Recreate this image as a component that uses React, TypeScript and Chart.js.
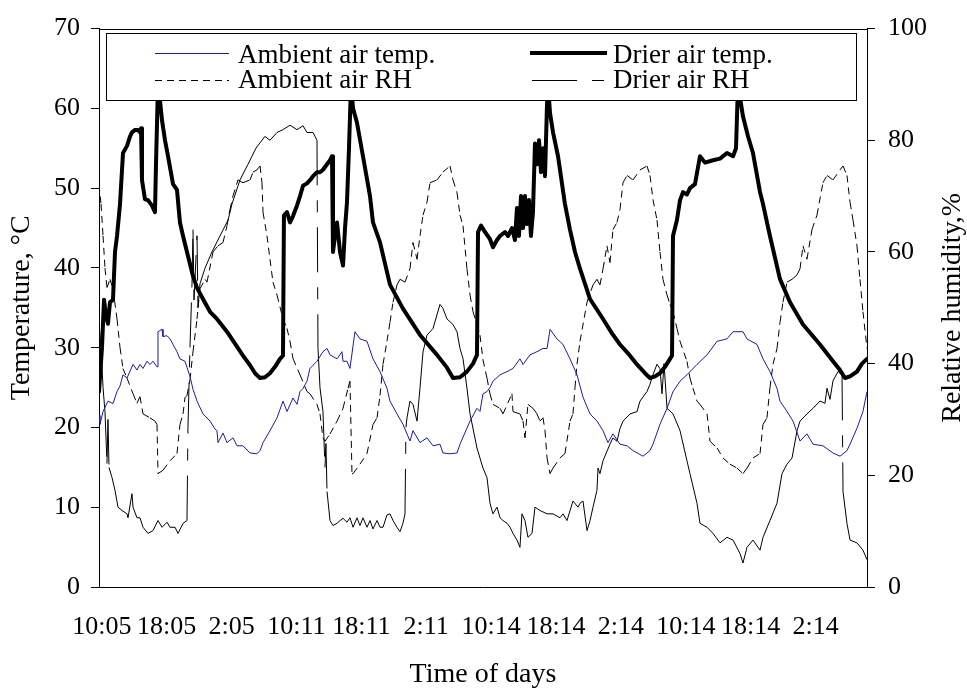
import React, { useEffect, useRef } from "react";
import { Chart, registerables } from "chart.js";

Chart.register(...registerables);

const FONT_FAMILY = '"Liberation Serif", "Times New Roman", serif';

// x axis: hours from start of record
const xTickHours = [0.35, 8.38, 16.41, 24.44, 32.47, 40.5, 48.53, 56.56, 64.59, 72.62, 80.65, 88.68];
const xTickLabels = ["10:05", "18:05", "2:05", "10:11", "18:11", "2:11", "10:14", "18:14", "2:14", "10:14", "18:14", "2:14"];

const leftTitle = "Temperature, °C";
const rightTitle = "Relative humidity,%";
const bottomTitle = "Time of days";

// Drier air temperature (°C)
const driTempH = [0, 0.12, 0.37, 0.62, 0.87, 1.11, 1.36, 1.73, 1.98, 2.23, 2.6, 2.97, 3.47, 3.84, 4.08, 4.46, 4.83, 5.07, 5.2, 5.32, 5.69, 6.06, 6.56, 6.93, 7.05, 7.3, 7.55, 7.8, 8.17, 8.54, 9.16, 9.65, 10.02, 10.4, 10.89, 11.63, 12.13, 12.87, 13.74, 14.6, 15.84, 16.83, 17.82, 18.69, 19.31, 19.93, 20.54, 21.16, 21.78, 22.4, 22.77, 22.89, 23.27, 23.64, 24.01, 24.5, 24.88, 25.25, 25.74, 26.11, 26.49, 26.98, 27.35, 27.72, 28.22, 28.59, 28.84, 28.96, 29.21, 29.46, 29.83, 30.2, 30.45, 30.69, 30.94, 31.19, 31.44, 31.93, 32.67, 33.54, 33.91, 34.78, 36.01, 37.62, 39.73, 41.83, 43.07, 43.81, 44.68, 45.54, 46.29, 46.78, 46.91, 47.28, 47.77, 48.39, 48.76, 49.26, 49.63, 50.25, 50.62, 51.11, 51.48, 51.73, 51.98, 52.23, 52.48, 52.72, 52.97, 53.22, 53.46, 53.71, 53.96, 54.21, 54.46, 54.7, 54.95, 55.2, 55.45, 55.57, 55.82, 56.19, 56.81, 57.67, 58.29, 58.91, 59.53, 60.77, 62.38, 63.49, 64.48, 65.72, 66.58, 67.57, 68.19, 68.81, 69.43, 70.05, 70.67, 70.92, 71.04, 71.53, 71.91, 72.28, 72.77, 73.14, 73.76, 74.38, 75.0, 75.99, 76.86, 77.72, 78.47, 78.84, 79.08, 79.7, 80.32, 80.94, 81.81, 82.18, 83.04, 84.28, 85.52, 87.13, 89.23, 90.84, 91.71, 92.33, 92.95, 93.81, 94.43, 95.05];
const driTempV = [24.5, 24.5, 30, 36, 34, 33, 35.7, 36, 42, 44, 48, 54.4, 55.3, 56.5, 57, 57.3, 57.3, 57, 57.5, 51, 48.6, 48.5, 47.8, 47, 52.8, 63, 61, 58.5, 56, 54, 50.5, 49.8, 45.7, 44, 42, 39, 37.5, 36.1, 34.5, 33.6, 32, 30.5, 29, 27.8, 26.8, 26.2, 26.3, 26.8, 27.6, 28.6, 29, 46.6, 47, 45.7, 46.5, 47.8, 49, 50.3, 50.6, 51, 51.5, 52, 52, 52.3, 53, 53.5, 54, 42, 44, 45.7, 42, 40.3, 45, 48.2, 55, 63, 60, 58.2, 54, 49, 45.7, 43.2, 37.9, 34.9, 31.6, 29.1, 27.5, 26.2, 26.3, 27, 28, 29.1, 44.5, 45.3, 44.5, 43.6, 42.6, 43.5, 44, 44.5, 44, 45, 43.5, 47.5, 44, 49, 45, 49, 45.5, 48.5, 44, 47, 55.6, 53, 56, 52, 55, 51.5, 60.6, 63, 59.4, 57, 54, 48, 44.8, 42, 39.9, 36.1, 33.6, 31.8, 30.4, 29, 27.9, 26.8, 26.2, 26.4, 26.8, 27.6, 28.6, 29, 44, 46, 48.5, 49.5, 49.2, 50, 50.5, 54, 53.2, 53.5, 53.7, 54.4, 54, 55, 63, 59, 56.5, 54.4, 49.5, 48, 44, 38.6, 35.7, 32.9, 30.4, 28.3, 27.2, 26.2, 26.4, 27, 28, 28.6];

// Ambient air temperature (°C)
const ambTempH = [0, 0.12, 0.5, 1.11, 1.73, 2.23, 2.6, 2.97, 3.47, 4.21, 4.7, 5.07, 5.45, 5.94, 6.31, 6.68, 7.18, 7.3, 7.8, 7.92, 8.42, 8.79, 9.16, 9.65, 10.02, 10.64, 11.26, 11.63, 12.13, 12.87, 13.74, 14.36, 14.6, 14.73, 15.35, 15.84, 16.58, 17.08, 17.82, 18.69, 19.55, 19.93, 20.3, 21.16, 22.03, 22.77, 23.27, 24.01, 24.5, 24.88, 25.25, 25.74, 26.11, 26.98, 27.72, 28.22, 28.59, 29.46, 30.07, 30.2, 30.69, 31.06, 31.68, 32.3, 33.17, 33.91, 34.78, 35.64, 36.01, 36.88, 37.62, 38.49, 38.86, 39.73, 40.59, 41.34, 42.2, 42.57, 43.44, 44.31, 44.68, 45.92, 46.78, 47.15, 47.52, 48.02, 48.39, 48.76, 49.63, 50.5, 51.24, 52.1, 52.48, 53.34, 54.21, 54.95, 55.45, 55.82, 56.68, 57.43, 58.29, 59.16, 59.9, 60.77, 61.63, 62.38, 62.99, 63.61, 64.48, 65.35, 66.09, 67.33, 68.19, 68.56, 69.43, 70.3, 71.04, 71.91, 72.77, 74.01, 75.25, 76.49, 77.72, 78.47, 79.7, 80.2, 81.44, 82.18, 83.04, 83.91, 84.28, 85.15, 85.89, 86.76, 87.62, 88.37, 89.6, 90.84, 91.71, 92.57, 92.95, 93.81, 94.55, 95.05];
const ambTempV = [21.5, 20.4, 22, 23.3, 23, 24.5, 25.2, 26.6, 26.2, 27.9, 27.2, 27.9, 27.4, 28.3, 27.9, 28.3, 27.6, 32, 32.3, 31.4, 31.5, 31.1, 30.4, 29.5, 28.6, 28.3, 26.4, 24.8, 23.3, 21.7, 20.8, 19.8, 19.6, 18.1, 19.3, 18.1, 18.7, 17.7, 17.7, 16.8, 16.7, 17.1, 18.1, 19.6, 21.2, 23.3, 22, 23.7, 22.9, 24.5, 24.9, 25.8, 27.4, 28.3, 29.5, 29.9, 29.1, 28.6, 29.5, 28.3, 28.3, 27.4, 32, 31.1, 30.8, 28.6, 27, 24.9, 23.3, 21.7, 20.4, 18.3, 19.6, 18.1, 18.7, 17.7, 17.9, 16.8, 16.7, 16.8, 17.9, 20.8, 22.4, 22, 24.2, 24.5, 25, 25.8, 26.6, 27, 27.4, 28.6, 27.9, 29.1, 29.5, 29.9, 29.9, 32.3, 31.1, 30.4, 28.6, 26.6, 23.8, 21.7, 20.8, 19.6, 18.1, 19.2, 17.9, 17.7, 17.1, 16.4, 17.1, 17.9, 20.4, 22.4, 24.5, 25.8, 26.6, 27.9, 29.1, 30.8, 31.1, 32, 32, 31.1, 30.4, 28.6, 27, 24.9, 23.3, 22, 20.8, 18.3, 19.2, 17.9, 17.7, 16.8, 16.4, 17.1, 17.9, 19.9, 22, 24.5];

// Ambient air relative humidity (%)
const ambRhH = [0, 0.25, 0.5, 0.74, 0.99, 1.36, 1.73, 2.23, 2.6, 2.97, 3.47, 4.21, 4.7, 5.07, 5.45, 6.31, 6.93, 7.18, 7.3, 7.92, 8.79, 9.65, 10.02, 10.4, 10.64, 10.89, 11.26, 11.63, 12.13, 12.5, 13.12, 13.37, 14.11, 14.73, 15.35, 15.84, 16.21, 16.58, 17.2, 17.82, 18.69, 19.06, 19.55, 19.93, 20.17, 20.3, 20.79, 21.16, 21.53, 22.03, 22.77, 23.27, 23.64, 24.01, 24.88, 25.74, 26.11, 26.98, 27.35, 27.72, 27.97, 28.59, 29.46, 30.2, 30.82, 31.06, 31.31, 31.44, 32.3, 33.17, 33.91, 34.41, 34.78, 35.15, 35.64, 36.01, 36.39, 36.88, 37.25, 37.87, 38.49, 38.86, 39.36, 39.73, 40.1, 40.59, 40.97, 41.83, 42.57, 43.44, 43.81, 44.31, 44.68, 45.05, 45.54, 45.92, 46.29, 46.78, 47.15, 47.52, 48.02, 48.39, 48.76, 49.63, 50.0, 51.11, 51.24, 52.1, 52.48, 52.72, 53.09, 53.71, 54.21, 54.58, 54.95, 55.2, 55.45, 55.82, 56.19, 57.05, 57.67, 58.29, 58.66, 58.91, 59.16, 59.53, 60.4, 61.14, 61.63, 62.0, 62.38, 62.87, 63.24, 63.61, 64.11, 64.48, 64.85, 65.35, 66.09, 66.96, 67.82, 68.19, 68.56, 69.06, 69.43, 69.8, 70.3, 70.67, 71.04, 71.53, 71.91, 72.77, 73.14, 73.51, 74.01, 74.38, 75.25, 75.62, 76.49, 77.23, 78.09, 78.96, 79.7, 80.2, 80.94, 81.81, 82.18, 82.67, 83.04, 83.42, 83.91, 84.28, 84.65, 85.15, 85.77, 86.39, 86.76, 87.13, 87.62, 88.24, 88.86, 89.6, 90.1, 90.84, 91.71, 92.08, 92.57, 92.95, 93.32, 93.81, 94.18, 94.55, 95.05];
const ambRhV = [72.1, 68.6, 62.9, 57.1, 53.6, 55.1, 53.4, 48, 42.9, 39.1, 37.4, 34.6, 32.9, 34.1, 31, 30.3, 29.7, 29.1, 20.3, 20.9, 22.6, 23.9, 29.1, 31, 33.9, 34.3, 37.1, 42.1, 48, 53.4, 55.1, 54.6, 60, 61.1, 61.7, 64.7, 67.6, 70, 72.9, 72.4, 72.9, 74.3, 74.7, 75.4, 72.4, 67.1, 62.9, 58.7, 54.6, 52.3, 48, 46.3, 44, 40.9, 38, 35, 34.6, 32.7, 31, 26.7, 26.1, 27.4, 29.7, 32, 35.6, 36.9, 20.3, 20.3, 22, 23.9, 29.1, 30.3, 34.3, 39.9, 44, 47.4, 51, 54.1, 55.1, 54.6, 57, 61.7, 58.7, 62.9, 66.6, 68.9, 72.4, 72.9, 74.3, 75.4, 72.9, 70.6, 66.6, 64.7, 57, 52.3, 49.3, 47, 45.1, 40.7, 37.4, 34.6, 32.7, 32, 31, 34.6, 31.4, 31, 29.7, 26.7, 32.7, 32, 31, 29.7, 30.3, 28, 23.1, 20.3, 21.3, 23.1, 23.9, 29.7, 31, 35.7, 39.9, 44, 51, 54.1, 55.1, 54.1, 57, 61.1, 58.1, 64, 65.3, 67.6, 72.4, 73.7, 72.9, 74.7, 75.4, 73.7, 69.4, 65.7, 60, 55.1, 52.3, 50.6, 49.3, 46.3, 44, 40.4, 37.4, 35.6, 33.3, 32.7, 31, 26.1, 24.9, 23.1, 22, 21.3, 20.3, 21.3, 23.1, 23.9, 29.1, 30.3, 35.7, 39.9, 42.7, 47.4, 51, 54.6, 55.1, 55.9, 57, 61.1, 58.7, 64, 66.6, 72.4, 73.7, 72.9, 74.7, 75.4, 73.7, 68.9, 65.7, 61.1, 55.1, 49.3, 42.7];

// Drier air relative humidity (%)
const driRhH = [0, 0.25, 0.5, 0.74, 0.99, 1.11, 1.24, 1.61, 1.98, 2.35, 2.85, 3.47, 3.59, 4.08, 4.21, 4.7, 5.07, 5.45, 6.06, 6.68, 7.3, 7.8, 8.42, 8.79, 9.41, 9.78, 10.4, 10.89, 11.01, 11.26, 11.51, 11.63, 11.76, 12.13, 12.25, 12.5, 13.12, 13.98, 14.98, 15.97, 16.46, 17.45, 18.44, 19.43, 20.54, 21.16, 22.03, 22.77, 23.64, 24.5, 25.25, 25.74, 26.49, 26.98, 27.1, 27.35, 27.72, 27.97, 28.09, 28.22, 28.59, 28.96, 29.46, 29.83, 30.2, 30.69, 31.06, 31.44, 31.93, 32.3, 32.67, 33.17, 33.54, 33.91, 34.41, 34.78, 35.15, 35.64, 36.01, 36.39, 36.88, 37.25, 37.62, 37.87, 37.99, 38.12, 38.49, 38.86, 39.36, 39.73, 40.1, 40.59, 41.34, 42.2, 42.57, 43.07, 43.81, 44.31, 44.68, 45.05, 45.54, 45.92, 46.78, 47.15, 47.52, 48.02, 48.39, 48.76, 49.26, 49.63, 50.0, 50.5, 50.87, 51.24, 51.73, 52.1, 52.35, 52.72, 53.09, 53.59, 53.96, 54.58, 55.45, 56.19, 57.05, 57.43, 57.92, 58.66, 59.28, 59.53, 59.9, 60.4, 60.77, 61.14, 61.63, 61.76, 62.0, 62.38, 63.24, 63.61, 64.11, 64.48, 64.85, 65.72, 66.58, 66.96, 67.82, 68.19, 68.56, 69.06, 69.43, 69.68, 69.93, 70.3, 71.04, 71.91, 72.77, 73.14, 74.01, 74.38, 75.25, 75.99, 76.86, 77.72, 78.47, 79.33, 79.7, 80.2, 80.94, 81.81, 82.18, 83.04, 83.91, 84.53, 85.15, 85.77, 86.39, 86.76, 87.62, 88.37, 89.23, 89.85, 90.1, 90.47, 90.84, 91.46, 91.96, 92.08, 92.57, 92.95, 93.81, 94.55, 95.05];
const driRhV = [47.1, 42.9, 35.7, 31.4, 22.1, 30, 21.4, 19.6, 17.3, 14.3, 13.7, 13.1, 12.4, 16.7, 14.3, 12.4, 12.4, 10.7, 9.6, 10.1, 11.9, 10.7, 11.6, 10.7, 10.7, 9.6, 11.4, 11.9, 28.6, 42.9, 54.3, 64, 51.4, 62.9, 50, 54.3, 57.1, 60, 62.9, 65.7, 68.6, 72.9, 75.7, 78.6, 80.7, 80, 81.4, 81.9, 82.7, 81.9, 82.6, 81.4, 81.4, 80, 42.9, 35.7, 31.4, 21.4, 25.7, 17.1, 11.9, 11, 11.4, 11.9, 12.3, 11.6, 12.4, 10.7, 12.4, 11, 12.4, 10.7, 11.9, 10.4, 11.9, 10.7, 10.7, 12.9, 13.1, 11.9, 10.7, 9.9, 11.4, 13.1, 28.6, 30.3, 33.3, 32.7, 29.7, 35.7, 42.1, 45.1, 46.3, 50.6, 49.9, 48, 47, 45.7, 42.7, 40.9, 35.6, 31, 24.9, 23.1, 21.3, 19.6, 15, 13.1, 14.3, 12.4, 11.9, 11.4, 10.7, 9.6, 8.4, 7.1, 13.1, 11.9, 8.9, 9.6, 14.3, 13.7, 13.1, 13.1, 12.4, 13.1, 11.9, 15.4, 14.3, 15, 15.4, 10.1, 11.9, 14.3, 17.3, 21.3, 20.3, 22.6, 25.6, 26.7, 26.1, 28.4, 29.7, 31, 31.4, 33.3, 35, 36.3, 38, 39.9, 39.1, 34.6, 40, 32, 31, 28, 22.6, 20.3, 15, 11.4, 10.7, 9.6, 7.9, 8.9, 8.4, 6, 4.3, 7.1, 8.4, 6.6, 8.9, 11.9, 15, 20.3, 22, 23.1, 28, 29.7, 31, 32, 33.3, 32.9, 35.6, 33.6, 36.9, 38.6, 37.9, 17.1, 11.4, 8.4, 7.9, 6.6, 4.9];

const zip = (h: number[], v: number[]) => h.map((x, i) => ({ x, y: v[i] }));

const AMB_TEMP_COLOR = "#1c1c9c";
const AMB_RH_DASH = [7, 5];
const DRI_RH_DASH = [45, 15, 12, 15];

// dash pattern restarts on every segment (as in the original spreadsheet rendering)
const perSegmentDash = {
  borderDashOffset: (ctx: any) => (ctx.p0DataIndex % 2) * 0.001,
};

const overlayPlugin = {
  id: "overlay",
  afterDraw(chart: any) {
    const ctx: CanvasRenderingContext2D = chart.ctx;
    const a = chart.chartArea;
    ctx.save();
    // top frame line
    ctx.strokeStyle = "#000";
    ctx.lineWidth = 1;
    ctx.setLineDash([]);
    ctx.beginPath();
    ctx.moveTo(a.left, Math.round(a.top) + 0.5);
    ctx.lineTo(a.right, Math.round(a.top) + 0.5);
    ctx.stroke();

    // legend box
    const bx = 106.5, by = 33.5, bw = 750, bh = 67;
    ctx.fillStyle = "#fff";
    ctx.fillRect(bx, by, bw, bh);
    ctx.strokeRect(bx, by, bw, bh);

    ctx.font = `27px ${FONT_FAMILY}`;
    ctx.fillStyle = "#000";
    ctx.textAlign = "left";
    ctx.textBaseline = "alphabetic";

    const sample = (x0: number, x1: number, y: number, color: string, w: number, dash: number[]) => {
      ctx.save();
      ctx.strokeStyle = color;
      ctx.lineWidth = w;
      ctx.setLineDash(dash);
      ctx.beginPath();
      ctx.moveTo(x0, y);
      ctx.lineTo(x1, y);
      ctx.stroke();
      ctx.restore();
    };
    sample(155, 229, 53.5, AMB_TEMP_COLOR, 1, []);
    ctx.fillText("Ambient air temp.", 238, 63);
    sample(530, 607, 53, "#000", 4, []);
    ctx.fillText("Drier air temp.", 613, 63);
    sample(155, 229, 80.5, "#000", 1, AMB_RH_DASH);
    ctx.fillText("Ambient air RH", 238, 88);
    sample(532, 606, 80.5, "#000", 1, DRI_RH_DASH);
    ctx.fillText("Drier air RH", 613, 88);

    // axis titles
    ctx.font = `28px ${FONT_FAMILY}`;
    ctx.textAlign = "center";
    ctx.textBaseline = "middle";
    const midY = (a.top + a.bottom) / 2;
    ctx.save();
    ctx.translate(22, midY);
    ctx.rotate(-Math.PI / 2);
    ctx.fillText(leftTitle, 0, 0);
    ctx.restore();
    ctx.save();
    ctx.translate(953, midY);
    ctx.rotate(-Math.PI / 2);
    ctx.fillText(rightTitle, 0, 0);
    ctx.restore();
    ctx.fillText(bottomTitle, (a.left + a.right) / 2, 675);
    ctx.restore();
  },
};

export default function App() {
  const ref = useRef<HTMLCanvasElement | null>(null);

  useEffect(() => {
    if (!ref.current) return;
    const tickFont = { family: FONT_FAMILY, size: 26 };
    const chart = new Chart(ref.current, {
      type: "line",
      data: {
        datasets: [
          {
            label: "Drier air temp.",
            data: zip(driTempH, driTempV),
            yAxisID: "y",
            borderColor: "#000",
            borderWidth: 4,
            borderJoinStyle: "round",
            borderCapStyle: "round",
            pointRadius: 0,
            tension: 0,
            order: 0,
          },
          {
            label: "Ambient air temp.",
            data: zip(ambTempH, ambTempV),
            yAxisID: "y",
            borderColor: AMB_TEMP_COLOR,
            borderWidth: 1,
            pointRadius: 0,
            tension: 0,
            order: 1,
          },
          {
            label: "Drier air RH",
            data: zip(driRhH, driRhV),
            yAxisID: "y1",
            borderColor: "#000",
            borderWidth: 1,
            borderDash: DRI_RH_DASH,
            borderCapStyle: "butt",
            segment: perSegmentDash,
            pointRadius: 0,
            tension: 0,
            order: 2,
          },
          {
            label: "Ambient air RH",
            data: zip(ambRhH, ambRhV),
            yAxisID: "y1",
            borderColor: "#000",
            borderWidth: 1,
            borderDash: AMB_RH_DASH,
            borderCapStyle: "butt",
            segment: perSegmentDash,
            pointRadius: 0,
            tension: 0,
            order: 3,
          },
        ],
      },
      options: {
        animation: false,
        responsive: false,
        devicePixelRatio: 1,
        layout: { padding: { top: 25, left: 0, right: 0, bottom: 0 } },
        plugins: {
          legend: { display: false },
          tooltip: { enabled: false },
        },
        scales: {
          x: {
            type: "linear",
            min: 0,
            max: 95.05,
            grid: { display: false, drawTicks: false },
            border: { display: true, color: "#000", width: 1 },
            ticks: {
              font: tickFont,
              color: "#000",
              padding: 25,
              maxRotation: 0,
              autoSkip: false,
              callback: (_v: any, i: number) => xTickLabels[i],
            },
            afterBuildTicks: (s: any) => {
              s.ticks = xTickHours.map((v) => ({ value: v }));
            },
            afterFit: (s: any) => {
              s.height = 101;
            },
          },
          y: {
            type: "linear",
            position: "left",
            min: 0,
            max: 70,
            grid: { display: true, drawOnChartArea: false, drawTicks: true, tickLength: 8, color: "#000" },
            border: { display: true, color: "#000", width: 1 },
            ticks: { stepSize: 10, font: tickFont, color: "#000", padding: 11 },
            afterFit: (s: any) => {
              s.width = 99;
            },
          },
          y1: {
            type: "linear",
            position: "right",
            min: 0,
            max: 100,
            grid: { display: true, drawOnChartArea: false, drawTicks: true, tickLength: 8, color: "#000" },
            border: { display: true, color: "#000", width: 1 },
            ticks: { stepSize: 20, font: tickFont, color: "#000", padding: 13 },
            afterFit: (s: any) => {
              s.width = 100;
            },
          },
        },
      } as any,
      plugins: [overlayPlugin],
    });
    return () => chart.destroy();
  }, []);

  return (
    <div style={{ position: "fixed", left: 0, top: 0, width: 967, height: 688, background: "#fff" }}>
      <canvas ref={ref} width={967} height={688} style={{ width: 967, height: 688, display: "block" }} />
    </div>
  );
}
